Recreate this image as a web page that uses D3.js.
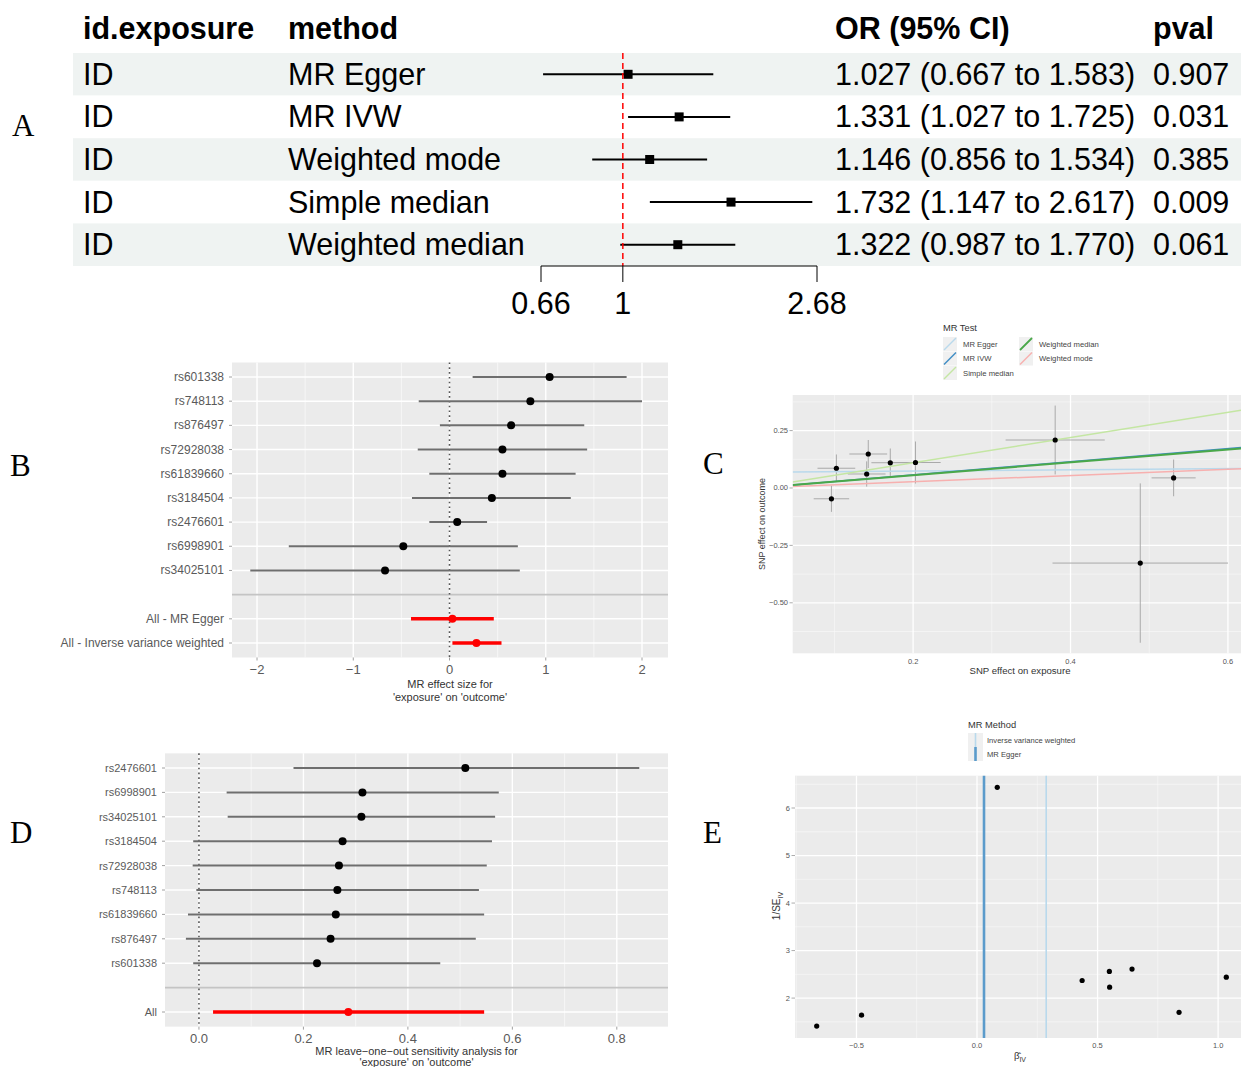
<!DOCTYPE html>
<html>
<head>
<meta charset="utf-8">
<script src="https://cdn.jsdelivr.net/npm/d3@7"></script>
<style>
  body { margin: 0; background: #fff; }
  svg { display: block; font-family: "Liberation Sans", Arial, sans-serif; }
</style>
</head>
<body>
<div id="chart"></div>
<script>
// ---- panel A : MR results table with forest ----
const methodsA = ['MR Egger', 'MR IVW', 'Weighted mode', 'Simple median', 'Weighted median']
const orA = [1.027, 1.331, 1.146, 1.732, 1.322]
const lowA = [0.667, 1.027, 0.856, 1.147, 0.987]
const highA = [1.583, 1.725, 1.534, 2.617, 1.770]
const pvalA = ['0.907', '0.031', '0.385', '0.009', '0.061']
const ticksA = [0.66, 1, 2.68]

// ---- panel B : single SNP forest ----
const snpB = ['rs601338', 'rs748113', 'rs876497', 'rs72928038', 'rs61839660', 'rs3184504', 'rs2476601', 'rs6998901', 'rs34025101']
const betaB = [1.04, 0.84, 0.64, 0.55, 0.55, 0.44, 0.08, -0.48, -0.67]
const loB = [0.24, -0.32, -0.10, -0.33, -0.21, -0.39, -0.21, -1.67, -2.07]
const hiB = [1.84, 2.00, 1.40, 1.43, 1.31, 1.26, 0.39, 0.71, 0.73]
const sumLabB = ['All - MR Egger', 'All - Inverse variance weighted']
const sumBetaB = [0.03, 0.28]
const sumLoB = [-0.40, 0.03]
const sumHiB = [0.46, 0.54]
const ticksB = [-2, -1, 0, 1, 2]

// ---- panel C : scatter ----
const snpC = ['rs601338', 'rs748113', 'rs876497', 'rs72928038', 'rs61839660', 'rs3184504', 'rs2476601', 'rs6998901', 'rs34025101']
const bxC = [0.143, 0.1025, 0.171, 0.203, 0.3805, 0.141, 0.531, 0.0962, 0.4886]
const byC = [0.148, 0.086, 0.110, 0.111, 0.209, 0.061, 0.044, -0.047, -0.327]
const sxC = [0.024, 0.024, 0.024, 0.032, 0.063, 0.024, 0.028, 0.0225, 0.1115]
const syC = [0.061, 0.060, 0.062, 0.0915, 0.150, 0.055, 0.080, 0.057, 0.347]
const testC = ['MR Egger', 'MR IVW', 'Simple median', 'Weighted median', 'Weighted mode']
const slopeC = [0.027, 0.286, 0.549, 0.279, 0.136]
const interceptC = [0.068, 0, 0, 0, 0]
const coloursC = ['#b9d9ec', '#3f8cc4', '#c4e6a3', '#4aa84a', '#f7b0af']
const ticksCx = [0.2, 0.4, 0.6]
const ticksCy = [-0.5, -0.25, 0, 0.25]

// ---- panel D : leave-one-out ----
const snpD = ['rs2476601', 'rs6998901', 'rs34025101', 'rs3184504', 'rs72928038', 'rs748113', 'rs61839660', 'rs876497', 'rs601338']
const betaD = [0.510, 0.313, 0.311, 0.275, 0.268, 0.265, 0.262, 0.252, 0.226]
const loD = [0.181, 0.053, 0.055, -0.011, -0.012, -0.005, -0.021, -0.025, -0.011]
const hiD = [0.843, 0.574, 0.567, 0.561, 0.551, 0.536, 0.546, 0.530, 0.462]
const sumLabD = ['All']
const sumBetaD = [0.286]
const sumLoD = [0.027]
const sumHiD = [0.546]
const ticksD = [0, 0.2, 0.4, 0.6, 0.8]

// ---- panel E : funnel ----
const betaE = [-0.665, -0.479, 0.084, 0.436, 0.549, 0.550, 0.643, 0.838, 1.034]
const invSeE = [1.41, 1.64, 6.435, 2.37, 2.56, 2.23, 2.61, 1.70, 2.44]
const methodE = ['Inverse variance weighted', 'MR Egger']
const vlineE = [0.287, 0.029]
const coloursE = ['#b9d9ec', '#5b9bcb']
const widthsE = [1.6, 2.6]
const ticksEx = [-0.5, 0, 0.5, 1]
const ticksEy = [2, 3, 4, 5, 6]

const W = 1241, H = 1067
const svg = d3.select('#chart').append('svg').attr('width', W).attr('height', H)
svg.append('rect').attr('width', W).attr('height', H).attr('fill', '#fff')

const panelBg = '#ebebeb'
const tickCol = '#555'

// panel letters
const letters = [['A', 12, 136], ['B', 10, 476], ['C', 703, 474], ['D', 10, 843], ['E', 703, 843]]
svg.selectAll('text.letter').data(letters).enter().append('text')
	.attr('class', 'letter')
	.attr('x', d => d[1]).attr('y', d => d[2])
	.attr('font-family', '"Liberation Serif", "Times New Roman", serif')
	.attr('font-size', 31)
	.text(d => d[0])

// ================= A =================
const gA = svg.append('g')
const yA = d3.scaleBand().domain(methodsA).range([53, 266])
const xA = d3.scaleLog().domain([0.66, 2.68]).range([541, 817])
const fsA = 30.5

gA.selectAll('rect.band').data(methodsA).enter().append('rect')
	.attr('x', 73).attr('width', W - 73)
	.attr('y', d => yA(d)).attr('height', yA.bandwidth())
	.attr('fill', (d, i) => i % 2 === 0 ? '#eff3f2' : '#fff')

const headA = [['id.exposure', 83], ['method', 288], ['OR (95% CI)', 835], ['pval', 1153]]
gA.selectAll('text.head').data(headA).enter().append('text')
	.attr('x', d => d[1]).attr('y', 39)
	.attr('font-size', fsA).attr('font-weight', 'bold')
	.text(d => d[0])

const rowsA = gA.selectAll('g.row').data(methodsA).enter().append('g')
	.attr('transform', d => `translate(0,${yA(d) + yA.bandwidth() / 2})`)
rowsA.append('text').attr('x', 83).attr('y', 10.5).attr('font-size', fsA).text('ID')
rowsA.append('text').attr('x', 288).attr('y', 10.5).attr('font-size', fsA).text(d => d)
rowsA.append('text').attr('x', 835).attr('y', 10.5).attr('font-size', fsA)
	.text((d, i) => `${orA[i].toFixed(3)} (${lowA[i].toFixed(3)} to ${highA[i].toFixed(3)})`)
rowsA.append('text').attr('x', 1153).attr('y', 10.5).attr('font-size', fsA).text((d, i) => pvalA[i])

gA.append('line')
	.attr('x1', xA(1)).attr('x2', xA(1)).attr('y1', 53).attr('y2', 266)
	.attr('stroke', '#ff0000').attr('stroke-width', 1.5).attr('stroke-dasharray', '6,4')

rowsA.append('line')
	.attr('x1', (d, i) => xA(lowA[i])).attr('x2', (d, i) => xA(highA[i]))
	.attr('stroke', '#000').attr('stroke-width', 2)
rowsA.append('rect')
	.attr('x', (d, i) => xA(orA[i]) - 4.5).attr('y', -4.5)
	.attr('width', 9).attr('height', 9).attr('fill', '#000')

gA.append('line').attr('x1', xA(0.66)).attr('x2', xA(2.68)).attr('y1', 266).attr('y2', 266)
	.attr('stroke', '#000').attr('stroke-width', 1)
gA.selectAll('line.tickA').data(ticksA).enter().append('line')
	.attr('x1', d => xA(d)).attr('x2', d => xA(d)).attr('y1', 266).attr('y2', 282)
	.attr('stroke', '#000').attr('stroke-width', 1)
gA.selectAll('text.tickA').data(ticksA).enter().append('text')
	.attr('x', d => xA(d)).attr('y', 314).attr('text-anchor', 'middle')
	.attr('font-size', fsA).text(d => d)

// ================= ggplot-ish helpers =================
function panelGrid(g, x, y, xMajor, xMinor, yMajor, yMinor) {
	const [x0, x1] = x.range(), [y0, y1] = [Math.max(...y.range()), Math.min(...y.range())]
	g.append('rect').attr('x', x0).attr('y', y1).attr('width', x1 - x0).attr('height', y0 - y1).attr('fill', panelBg)
	g.selectAll(null).data(xMinor).enter().append('line')
		.attr('x1', d => x(d)).attr('x2', d => x(d)).attr('y1', y1).attr('y2', y0)
		.attr('stroke', '#fafafa').attr('stroke-width', 0.6)
	g.selectAll(null).data(yMinor).enter().append('line')
		.attr('y1', d => y(d)).attr('y2', d => y(d)).attr('x1', x0).attr('x2', x1)
		.attr('stroke', '#fafafa').attr('stroke-width', 0.6)
	g.selectAll(null).data(xMajor).enter().append('line')
		.attr('x1', d => x(d)).attr('x2', d => x(d)).attr('y1', y1).attr('y2', y0)
		.attr('stroke', '#fff').attr('stroke-width', 1.3)
	g.selectAll(null).data(yMajor).enter().append('line')
		.attr('y1', d => y(d)).attr('y2', d => y(d)).attr('x1', x0).attr('x2', x1)
		.attr('stroke', '#fff').attr('stroke-width', 1.3)
}

function forestPanel(o) {
	const g = svg.append('g')
	const cats = [...o.snps, ' ', ...o.sumLab]
	const step = (o.yLast - o.yFirst) / (cats.length - 1)
	const y = d3.scalePoint().domain(cats).range([o.yFirst, o.yLast])
	const yTop = o.yFirst - 0.6 * step, yBot = o.yLast + 0.6 * step
	const x = d3.scaleLinear().domain(o.xDomain).range(o.xRange)
	const minor = o.ticks.slice(0, -1).map((t, i) => (t + o.ticks[i + 1]) / 2)
	const bg = g.append('g')
	bg.append('rect').attr('x', o.xRange[0]).attr('y', yTop)
		.attr('width', o.xRange[1] - o.xRange[0]).attr('height', yBot - yTop).attr('fill', panelBg)
	bg.selectAll(null).data(minor).enter().append('line')
		.attr('x1', d => x(d)).attr('x2', d => x(d)).attr('y1', yTop).attr('y2', yBot)
		.attr('stroke', '#fafafa').attr('stroke-width', 0.7)
	bg.selectAll(null).data(o.ticks).enter().append('line')
		.attr('x1', d => x(d)).attr('x2', d => x(d)).attr('y1', yTop).attr('y2', yBot)
		.attr('stroke', '#fff').attr('stroke-width', 1.4)
	bg.selectAll(null).data(cats.filter(c => c !== ' ')).enter().append('line')
		.attr('x1', o.xRange[0]).attr('x2', o.xRange[1]).attr('y1', d => y(d)).attr('y2', d => y(d))
		.attr('stroke', '#fff').attr('stroke-width', 1.4)
	bg.append('line').attr('x1', o.xRange[0]).attr('x2', o.xRange[1])
		.attr('y1', y(' ')).attr('y2', y(' ')).attr('stroke', '#c4c4c4').attr('stroke-width', 1.6)
	g.append('line').attr('x1', x(0)).attr('x2', x(0)).attr('y1', yTop).attr('y2', yBot)
		.attr('stroke', '#555').attr('stroke-width', 1.6).attr('stroke-dasharray', '1.6,3.2')

	g.selectAll('line.ci').data(o.snps).enter().append('line')
		.attr('x1', (d, i) => x(o.lo[i])).attr('x2', (d, i) => x(o.hi[i]))
		.attr('y1', d => y(d)).attr('y2', d => y(d))
		.attr('stroke', '#6e6e6e').attr('stroke-width', 2)
	g.selectAll('circle.pt').data(o.snps).enter().append('circle')
		.attr('cx', (d, i) => x(o.beta[i])).attr('cy', d => y(d)).attr('r', 4).attr('fill', '#000')
	g.selectAll('line.sci').data(o.sumLab).enter().append('line')
		.attr('x1', (d, i) => x(o.sumLo[i])).attr('x2', (d, i) => x(o.sumHi[i]))
		.attr('y1', d => y(d)).attr('y2', d => y(d))
		.attr('stroke', '#ff0000').attr('stroke-width', 3.5)
	g.selectAll('circle.spt').data(o.sumLab).enter().append('circle')
		.attr('cx', (d, i) => x(o.sumBeta[i])).attr('cy', d => y(d)).attr('r', 4).attr('fill', '#ff0000')

	g.selectAll('text.ylab').data(cats.filter(c => c !== ' ')).enter().append('text')
		.attr('x', o.xRange[0] - 8).attr('y', d => y(d) + 4)
		.attr('text-anchor', 'end').attr('font-size', o.labSize).attr('fill', '#5a5a5a')
		.text(d => d)
	g.selectAll('line.ytick').data(cats.filter(c => c !== ' ')).enter().append('line')
		.attr('x1', o.xRange[0] - 3).attr('x2', o.xRange[0]).attr('y1', d => y(d)).attr('y2', d => y(d))
		.attr('stroke', '#888').attr('stroke-width', 0.8)
	g.selectAll('text.xlab').data(o.ticks).enter().append('text')
		.attr('x', d => x(d)).attr('y', yBot + 16).attr('text-anchor', 'middle')
		.attr('font-size', 13).attr('fill', '#5a5a5a')
		.text(d => o.fmt(d))
	g.selectAll('line.xtick').data(o.ticks).enter().append('line')
		.attr('x1', d => x(d)).attr('x2', d => x(d)).attr('y1', yBot).attr('y2', yBot + 3)
		.attr('stroke', '#888').attr('stroke-width', 0.8)
	const cx = (o.xRange[0] + o.xRange[1]) / 2
	g.selectAll('text.title').data(o.title).enter().append('text')
		.attr('x', cx).attr('y', (d, i) => yBot + o.titleGap + i * o.titleStep).attr('text-anchor', 'middle')
		.attr('font-size', 11).attr('fill', '#333').text(d => d)
}

// ================= B =================
forestPanel({
	snps: snpB, beta: betaB, lo: loB, hi: hiB,
	sumLab: sumLabB, sumBeta: sumBetaB, sumLo: sumLoB, sumHi: sumHiB,
	yFirst: 377, yLast: 643,
	xDomain: [-2.26, 2.27], xRange: [232, 668],
	ticks: ticksB, fmt: d => d < 0 ? '\u2212' + Math.abs(d) : String(d),
	labSize: 12, titleGap: 30, titleStep: 13,
	title: ['MR effect size for', "'exposure' on 'outcome'"]
})

// ================= D =================
forestPanel({
	snps: snpD, beta: betaD, lo: loD, hi: hiD,
	sumLab: sumLabD, sumBeta: sumBetaD, sumLo: sumLoD, sumHi: sumHiD,
	yFirst: 768, yLast: 1012,
	xDomain: [-0.065, 0.898], xRange: [165, 668],
	ticks: ticksD, fmt: d => d.toFixed(1),
	labSize: 11, titleGap: 28, titleStep: 11,
	title: ['MR leave\u2212one\u2212out sensitivity analysis for', "'exposure' on 'outcome'"]
})

// ================= C =================
const gC = svg.append('g')
const xC = d3.scaleLinear().domain([0.047, 0.6166]).range([792.7, 1241])
const yC = d3.scaleLinear().domain([-0.72, 0.405]).range([653.3, 395])
panelGrid(gC, xC, yC, ticksCx, [0.1, 0.3, 0.5], ticksCy, [-0.625, -0.375, -0.125, 0.125, 0.375])
gC.append('clipPath').attr('id', 'clipC').append('rect')
	.attr('x', 792.7).attr('y', 395).attr('width', 1241 - 792.7).attr('height', 653.3 - 395)
const plotC = gC.append('g').attr('clip-path', 'url(#clipC)')
plotC.selectAll('line.ex').data(snpC).enter().append('line')
	.attr('x1', (d, i) => xC(bxC[i] - sxC[i])).attr('x2', (d, i) => xC(bxC[i] + sxC[i]))
	.attr('y1', (d, i) => yC(byC[i])).attr('y2', (d, i) => yC(byC[i]))
	.attr('stroke', '#a9a9a9').attr('stroke-width', 1)
plotC.selectAll('line.ey').data(snpC).enter().append('line')
	.attr('x1', (d, i) => xC(bxC[i])).attr('x2', (d, i) => xC(bxC[i]))
	.attr('y1', (d, i) => yC(byC[i] - syC[i])).attr('y2', (d, i) => yC(byC[i] + syC[i]))
	.attr('stroke', '#a9a9a9').attr('stroke-width', 1)
const xEnds = xC.domain()
const drawOrder = [0, 4, 2, 1, 3]
plotC.selectAll('line.fit').data(drawOrder).enter().append('line')
	.attr('x1', xC(xEnds[0])).attr('x2', xC(xEnds[1]))
	.attr('y1', k => yC(interceptC[k] + slopeC[k] * xEnds[0]))
	.attr('y2', k => yC(interceptC[k] + slopeC[k] * xEnds[1]))
	.attr('stroke', k => coloursC[k]).attr('stroke-width', k => k === 3 ? 2 : 1.5)
plotC.selectAll('circle.pt').data(snpC).enter().append('circle')
	.attr('cx', (d, i) => xC(bxC[i])).attr('cy', (d, i) => yC(byC[i])).attr('r', 2.6).attr('fill', '#000')

gC.selectAll('text.xt').data(ticksCx).enter().append('text')
	.attr('x', d => xC(d)).attr('y', 664).attr('text-anchor', 'middle')
	.attr('font-size', 7.5).attr('fill', tickCol).text(d => d.toFixed(1))
gC.selectAll('text.yt').data(ticksCy).enter().append('text')
	.attr('x', 788).attr('y', d => yC(d) + 2.5).attr('text-anchor', 'end')
	.attr('font-size', 7.5).attr('fill', tickCol).text(d => d < 0 ? '\u2212' + Math.abs(d).toFixed(2) : d.toFixed(2))
gC.selectAll('line.ytk').data(ticksCy).enter().append('line')
	.attr('x1', 789.5).attr('x2', 792.7).attr('y1', d => yC(d)).attr('y2', d => yC(d))
	.attr('stroke', '#888').attr('stroke-width', 0.7)
gC.append('text').attr('x', 1020).attr('y', 674).attr('text-anchor', 'middle')
	.attr('font-size', 9.6).attr('fill', '#333').text('SNP effect on exposure')
gC.append('text').attr('transform', 'translate(765,524) rotate(-90)').attr('text-anchor', 'middle')
	.attr('font-size', 9).attr('fill', '#333').text('SNP effect on outcome')

// legend C
gC.append('text').attr('x', 943).attr('y', 331).attr('font-size', 9.3).attr('fill', '#333').text('MR Test')
const legC = gC.selectAll('g.leg').data(testC).enter().append('g')
	.attr('transform', (d, i) => `translate(${i < 3 ? 943 : 1019},${337 + (i % 3) * 14.5})`)
legC.append('rect').attr('width', 14).attr('height', 14).attr('fill', '#f0f0f0')
legC.append('line').attr('x1', 1).attr('y1', 13).attr('x2', 13).attr('y2', 1)
	.attr('stroke', (d, i) => coloursC[i]).attr('stroke-width', (d, i) => i === 3 ? 1.8 : 1.4)
legC.append('text').attr('x', 20).attr('y', 9.8).attr('font-size', 7.7).attr('fill', '#444').text(d => d)

// ================= E =================
const gE = svg.append('g')
const xE = d3.scaleLinear().domain([-0.755, 1.095]).range([795, 1241])
const yE = d3.scaleLinear().domain([1.16, 6.68]).range([1038, 775.7])
panelGrid(gE, xE, yE, ticksEx, [-0.75, -0.25, 0.25, 0.75], ticksEy, [1.5, 2.5, 3.5, 4.5, 5.5, 6.5])
gE.selectAll('line.vl').data(methodE).enter().append('line')
	.attr('x1', (d, i) => xE(vlineE[i])).attr('x2', (d, i) => xE(vlineE[i]))
	.attr('y1', 775.7).attr('y2', 1038)
	.attr('stroke', (d, i) => coloursE[i]).attr('stroke-width', (d, i) => widthsE[i])
gE.selectAll('circle.pt').data(betaE).enter().append('circle')
	.attr('cx', d => xE(d)).attr('cy', (d, i) => yE(invSeE[i])).attr('r', 2.6).attr('fill', '#000')
gE.selectAll('text.xt').data(ticksEx).enter().append('text')
	.attr('x', d => xE(d)).attr('y', 1048).attr('text-anchor', 'middle')
	.attr('font-size', 7.5).attr('fill', tickCol).text(d => d < 0 ? '\u2212' + Math.abs(d).toFixed(1) : d.toFixed(1))
gE.selectAll('text.yt').data(ticksEy).enter().append('text')
	.attr('x', 790).attr('y', d => yE(d) + 2.5).attr('text-anchor', 'end')
	.attr('font-size', 7.5).attr('fill', tickCol).text(d => d)
gE.selectAll('line.ytk').data(ticksEy).enter().append('line')
	.attr('x1', 791.5).attr('x2', 795).attr('y1', d => yE(d)).attr('y2', d => yE(d))
	.attr('stroke', '#888').attr('stroke-width', 0.7)
const yTitleE = gE.append('text').attr('transform', 'translate(780,906) rotate(-90)')
	.attr('text-anchor', 'middle').attr('font-size', 10).attr('fill', '#333')
yTitleE.append('tspan').text('1/SE')
yTitleE.append('tspan').attr('font-size', 7).attr('dy', 2.5).text('IV')
const xTitleE = gE.append('text').attr('x', 1020).attr('y', 1059)
	.attr('text-anchor', 'middle').attr('font-size', 9.5).attr('fill', '#333')
xTitleE.append('tspan').text('\u03B2\u0302')
xTitleE.append('tspan').attr('font-size', 7).attr('dy', 2.5).text('IV')

gE.append('text').attr('x', 968).attr('y', 728).attr('font-size', 9.3).attr('fill', '#333').text('MR Method')
const legE = gE.selectAll('g.leg').data(methodE).enter().append('g')
	.attr('transform', (d, i) => `translate(968,${733 + i * 14})`)
legE.append('rect').attr('width', 15).attr('height', 14).attr('fill', '#f0f0f0')
legE.append('line').attr('x1', 7.5).attr('x2', 7.5).attr('y1', 0).attr('y2', 14)
	.attr('stroke', (d, i) => coloursE[i]).attr('stroke-width', (d, i) => widthsE[i])
legE.append('text').attr('x', 19).attr('y', 9.8).attr('font-size', 7.6).attr('fill', '#444').text(d => d)
</script>
</body>
</html>
